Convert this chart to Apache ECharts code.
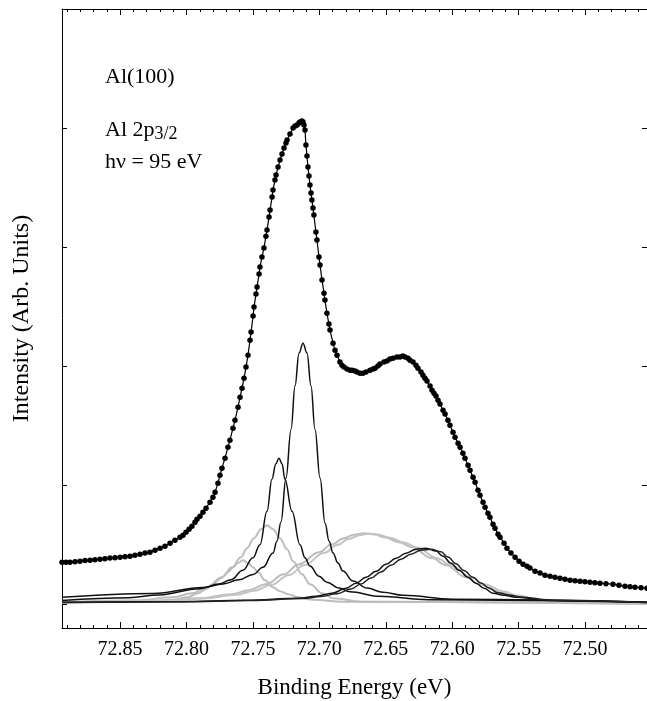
<!DOCTYPE html>
<html><head><meta charset="utf-8">
<script src="https://cdn.jsdelivr.net/npm/echarts@6/dist/echarts.min.js"></script>
<style>html,body{margin:0;padding:0;overflow:hidden;background:#fff}#c{width:652px;height:701px}</style>
</head><body><div id="c"></div><script>
// ---- axis ranges and ticks ----
const xMin = 72.4534, xMax = 72.8937;
const yMin = -0.2, yMax = 5;
const xMajorTicks = [72.85, 72.80, 72.75, 72.70, 72.65, 72.60, 72.55, 72.50];
const xMinorTicks = [72.46,72.47,72.48,72.49,72.51,72.52,72.53,72.54,72.56,72.57,72.58,72.59,
  72.61,72.62,72.63,72.64,72.66,72.67,72.68,72.69,72.71,72.72,72.73,72.74,72.76,72.77,72.78,72.79,
  72.81,72.82,72.83,72.84,72.86,72.87,72.88,72.89];
const yTicks = [0, 1, 2, 3, 4];

// ---- measured spectrum [binding energy (eV), intensity] ----
const measured = [
[72.8937,0.353],[72.8907,0.353],[72.8877,0.353],[72.8839,0.357],[72.8802,0.361],[72.8764,0.366],
[72.8726,0.370],[72.8689,0.374],[72.8651,0.378],[72.8614,0.382],[72.8576,0.387],[72.8538,0.391],
[72.8500,0.395],[72.8463,0.399],[72.8425,0.403],[72.8388,0.412],[72.8350,0.420],[72.8312,0.429],
[72.8275,0.437],[72.8237,0.454],[72.8199,0.471],[72.8162,0.487],[72.8124,0.513],[72.8087,0.538],
[72.8049,0.563],[72.8026,0.580],[72.8004,0.605],[72.7981,0.630],[72.7959,0.655],[72.7936,0.689],
[72.7921,0.714],[72.7898,0.739],[72.7876,0.773],[72.7853,0.807],[72.7823,0.857],[72.7801,0.899],
[72.7785,0.941],[72.7763,1.017],[72.7748,1.084],[72.7733,1.143],[72.7710,1.227],[72.7688,1.319],
[72.7673,1.378],[72.7650,1.479],[72.7635,1.546],[72.7612,1.655],[72.7597,1.739],[72.7582,1.815],
[72.7567,1.899],[72.7552,1.992],[72.7537,2.092],[72.7522,2.218],[72.7514,2.286],[72.7499,2.420],
[72.7492,2.496],[72.7477,2.605],[72.7469,2.664],[72.7454,2.773],[72.7447,2.832],[72.7432,2.916],
[72.7417,2.992],[72.7402,3.092],[72.7394,3.143],[72.7379,3.252],[72.7371,3.311],[72.7356,3.420],
[72.7349,3.479],[72.7334,3.563],[72.7326,3.605],[72.7311,3.672],[72.7296,3.731],[72.7281,3.782],
[72.7266,3.832],[72.7251,3.874],[72.7243,3.899],[72.7221,3.950],[72.7198,4.000],[72.7183,4.017],
[72.7168,4.025],[72.7153,4.042],[72.7146,4.050],[72.7131,4.059],[72.7123,4.050],[72.7116,4.025],
[72.7108,3.983],[72.7101,3.857],[72.7093,3.765],[72.7086,3.672],[72.7078,3.597],[72.7071,3.521],
[72.7063,3.454],[72.7056,3.395],[72.7048,3.328],[72.7041,3.269],[72.7026,3.126],[72.7018,3.059],
[72.7003,2.916],[72.6995,2.849],[72.6980,2.723],[72.6965,2.613],[72.6958,2.555],[72.6943,2.445],
[72.6928,2.353],[72.6920,2.303],[72.6897,2.193],[72.6882,2.134],[72.6867,2.092],[72.6845,2.034],
[72.6830,2.008],[72.6815,1.992],[72.6792,1.975],[72.6769,1.966],[72.6754,1.966],[72.6732,1.958],
[72.6717,1.950],[72.6694,1.941],[72.6672,1.941],[72.6649,1.950],[72.6619,1.966],[72.6596,1.975],
[72.6581,1.983],[72.6559,2.000],[72.6544,2.017],[72.6514,2.034],[72.6491,2.042],[72.6469,2.059],
[72.6446,2.067],[72.6416,2.076],[72.6393,2.076],[72.6371,2.084],[72.6355,2.076],[72.6333,2.067],
[72.6318,2.050],[72.6295,2.034],[72.6273,2.008],[72.6258,1.983],[72.6235,1.950],[72.6220,1.924],
[72.6205,1.899],[72.6190,1.874],[72.6167,1.832],[72.6152,1.798],[72.6137,1.773],[72.6122,1.748],
[72.6107,1.714],[72.6092,1.681],[72.6069,1.630],[72.6054,1.597],[72.6032,1.546],[72.6017,1.504],
[72.5994,1.445],[72.5979,1.403],[72.5956,1.353],[72.5941,1.319],[72.5919,1.269],[72.5904,1.227],
[72.5881,1.168],[72.5866,1.126],[72.5843,1.067],[72.5828,1.025],[72.5806,0.958],[72.5791,0.916],
[72.5768,0.857],[72.5753,0.815],[72.5731,0.765],[72.5716,0.731],[72.5693,0.672],[72.5678,0.639],
[72.5655,0.588],[72.5640,0.563],[72.5610,0.513],[72.5588,0.471],[72.5558,0.429],[72.5527,0.395],
[72.5497,0.361],[72.5467,0.336],[72.5437,0.319],[72.5415,0.303],[72.5377,0.277],[72.5339,0.261],
[72.5302,0.244],[72.5264,0.235],[72.5227,0.227],[72.5189,0.218],[72.5151,0.210],[72.5113,0.202],
[72.5076,0.197],[72.5038,0.193],[72.5001,0.189],[72.4963,0.185],[72.4926,0.181],[72.4888,0.176],
[72.4843,0.172],[72.4790,0.168],[72.4745,0.160],[72.4700,0.151],[72.4662,0.147],[72.4624,0.143],
[72.4579,0.139],[72.4534,0.134]
];

// ---- fitted components (black) ----
const compA = [
[72.8937,0.058],[72.8252,0.090],[72.7876,0.140],[72.7725,0.170],[72.7605,0.205],[72.7499,0.250],
[72.7424,0.310],[72.7349,0.430],[72.7319,0.530],[72.7289,0.690],[72.7251,1.060],[72.7213,1.470],
[72.7183,1.835],[72.7153,2.110],[72.7123,2.193],[72.7093,2.110],[72.7063,1.835],[72.7033,1.470],
[72.6995,1.060],[72.6957,0.680],[72.6927,0.530],[72.6897,0.430],[72.6860,0.345],[72.6822,0.278],
[72.6747,0.195],[72.6641,0.135],[72.6521,0.100],[72.6370,0.075],[72.5994,0.042],[72.4534,0.016]
];
const compB = [
[72.8937,0.032],[72.8433,0.055],[72.8207,0.078],[72.7899,0.130],[72.7756,0.170],[72.7665,0.205],
[72.7575,0.285],[72.7500,0.390],[72.7447,0.500],[72.7394,0.780],[72.7357,1.050],[72.7327,1.180],
[72.7304,1.227],[72.7281,1.180],[72.7259,1.050],[72.7206,0.780],[72.7146,0.500],[72.7108,0.390],
[72.7071,0.320],[72.7003,0.235],[72.6943,0.185],[72.6852,0.135],[72.6770,0.105],[72.6551,0.066],
[72.6175,0.038],[72.4534,0.015]
];
const compC1 = [
[72.8937,0.016],[72.8079,0.021],[72.7552,0.033],[72.7153,0.050],[72.7025,0.067],[72.6905,0.092],
[72.6799,0.134],[72.6724,0.176],[72.6649,0.226],[72.6573,0.277],[72.6498,0.336],[72.6423,0.386],
[72.6348,0.428],[72.6272,0.462],[72.6197,0.470],[72.6122,0.446],[72.6069,0.403],[72.6009,0.344],
[72.5949,0.285],[72.5881,0.226],[72.5821,0.176],[72.5760,0.134],[72.5693,0.092],[72.5610,0.075],
[72.5520,0.058],[72.5294,0.033],[72.4534,0.016]
];
const compC2 = [
[72.8937,0.014],[72.8042,0.020],[72.7515,0.031],[72.7116,0.048],[72.6988,0.064],[72.6868,0.088],
[72.6762,0.128],[72.6687,0.170],[72.6612,0.219],[72.6536,0.270],[72.6461,0.328],[72.6386,0.378],
[72.6311,0.420],[72.6235,0.454],[72.6160,0.462],[72.6085,0.440],[72.6032,0.396],[72.5972,0.340],
[72.5912,0.283],[72.5844,0.226],[72.5784,0.178],[72.5723,0.137],[72.5656,0.096],[72.5573,0.078],
[72.5483,0.060],[72.5257,0.034],[72.4534,0.014]
];
// ---- fitted components (grey) ----
const compD = [
[72.8937,0.017],[72.8372,0.034],[72.8102,0.059],[72.7959,0.092],[72.7846,0.143],[72.7733,0.227],
[72.7657,0.311],[72.7590,0.395],[72.7545,0.471],[72.7492,0.555],[72.7439,0.630],[72.7394,0.664],
[72.7349,0.630],[72.7296,0.555],[72.7243,0.462],[72.7198,0.361],[72.7131,0.252],[72.7070,0.168],
[72.6980,0.092],[72.6897,0.050],[72.6679,0.021],[72.4534,0.004]
];
const compE = [
[72.8937,0.013],[72.8328,0.021],[72.8102,0.038],[72.7989,0.059],[72.7914,0.092],[72.7853,0.126],
[72.7801,0.168],[72.7741,0.218],[72.7688,0.269],[72.7650,0.311],[72.7613,0.345],[72.7575,0.370],
[72.7537,0.345],[72.7500,0.311],[72.7462,0.269],[72.7409,0.202],[72.7349,0.143],[72.7297,0.109],
[72.7236,0.084],[72.7161,0.059],[72.7048,0.038],[72.6822,0.021],[72.4534,0.003]
];
const compF1 = [
[72.8937,0.013],[72.8169,0.029],[72.7906,0.050],[72.7658,0.084],[72.7530,0.118],[72.7402,0.168],
[72.7266,0.252],[72.7153,0.336],[72.7003,0.437],[72.6905,0.504],[72.6815,0.555],[72.6739,0.584],
[72.6664,0.597],[72.6589,0.588],[72.6513,0.563],[72.6401,0.521],[72.6303,0.479],[72.6152,0.387],
[72.6047,0.328],[72.5896,0.227],[72.5798,0.168],[72.5648,0.105],[72.5550,0.071],[72.5384,0.038],
[72.5159,0.017],[72.4534,0.004]
];
const compF2 = [
[72.8937,0.012],[72.8131,0.027],[72.7868,0.047],[72.7620,0.080],[72.7492,0.113],[72.7364,0.162],
[72.7228,0.245],[72.7115,0.328],[72.6965,0.430],[72.6867,0.497],[72.6777,0.549],[72.6701,0.579],
[72.6626,0.592],[72.6551,0.584],[72.6475,0.560],[72.6363,0.519],[72.6265,0.477],[72.6114,0.386],
[72.6009,0.327],[72.5858,0.226],[72.5760,0.168],[72.5610,0.106],[72.5512,0.072],[72.5346,0.039],
[72.5121,0.018],[72.4534,0.004]
];

const FONT = '"Liberation Serif", "DejaVu Serif", serif';
const chart = echarts.init(document.getElementById('c'), null, {renderer: 'canvas'});

function xAxisDef(pos, ticks, len, showLabel, showLine, name) {
  return {
    type: 'value', position: pos, min: xMin, max: xMax, inverse: true,
    axisLine: {show: showLine, onZero: false, lineStyle: {color: '#000', width: 1}},
    splitLine: {show: false},
    axisTick: {show: true, inside: true, length: len, customValues: ticks, lineStyle: {color: '#000', width: 1}},
    axisLabel: {show: showLabel, customValues: ticks, formatter: v => v.toFixed(2),
      fontFamily: FONT, fontSize: 20, color: '#000', margin: 12},
    name: name || '', nameLocation: 'middle', nameGap: 48,
    nameTextStyle: {fontFamily: FONT, fontSize: 23, color: '#000'}
  };
}
function yAxisDef(pos, name) {
  return {
    type: 'value', position: pos, min: yMin, max: yMax,
    axisLine: {show: true, onZero: false, lineStyle: {color: '#000', width: 1}},
    splitLine: {show: false},
    axisTick: {show: true, inside: true, length: 5, customValues: yTicks, lineStyle: {color: '#000', width: 1}},
    axisLabel: {show: false},
    name: name || '', nameLocation: 'middle', nameGap: 28,
    nameTextStyle: {fontFamily: FONT, fontSize: 24, color: '#000'}
  };
}
function comp(data, color, width) {
  return {type: 'line', data: data, showSymbol: false, smooth: 0.4, smoothMonotone: 'x',
    lineStyle: {color: color, width: width}, z: 2, silent: true};
}

chart.setOption({
  animation: false,
  backgroundColor: '#fff',
  grid: {left: 62, top: 9, right: 5, bottom: 73, containLabel: false, outerBoundsMode: 'none'},
  xAxis: [
    xAxisDef('bottom', xMajorTicks, 6, true, true, 'Binding Energy (eV)'),
    xAxisDef('bottom', xMinorTicks, 3, false, false),
    xAxisDef('top', xMajorTicks, 6, false, true),
    xAxisDef('top', xMinorTicks, 3, false, false)
  ],
  yAxis: [yAxisDef('left', 'Intensity (Arb. Units)'), yAxisDef('right')],
  series: [
    comp(compD, '#bdbdbd', 2), comp(compE, '#bdbdbd', 2),
    comp(compF1, '#bdbdbd', 2), comp(compF2, '#c4c4c4', 2),
    comp(compA, '#111', 1.5), comp(compB, '#111', 1.5),
    comp(compC1, '#111', 1.5), comp(compC2, '#222', 1.5),
    {type: 'line', data: measured, showSymbol: true, showAllSymbol: true, symbol: 'circle', symbolSize: 5.5,
      itemStyle: {color: '#000'}, lineStyle: {color: '#000', width: 1.2}, z: 3, silent: true}
  ],
  graphic: [
    {type: 'text', left: 105, top: 66, style: {text: 'Al(100)', font: '22px ' + FONT, fill: '#000'}},
    {type: 'text', left: 105, top: 119, style: {
      text: '{n|Al 2p}{s|3/2}',
      rich: {n: {font: '22px ' + FONT, fill: '#000'}, s: {font: '18px ' + FONT, fill: '#000', padding: [9, 0, 0, 0]}}
    }},
    {type: 'text', left: 105, top: 151, style: {text: 'hν = 95 eV', font: '22px ' + FONT, fill: '#000'}}
  ]
});
</script></body></html>
